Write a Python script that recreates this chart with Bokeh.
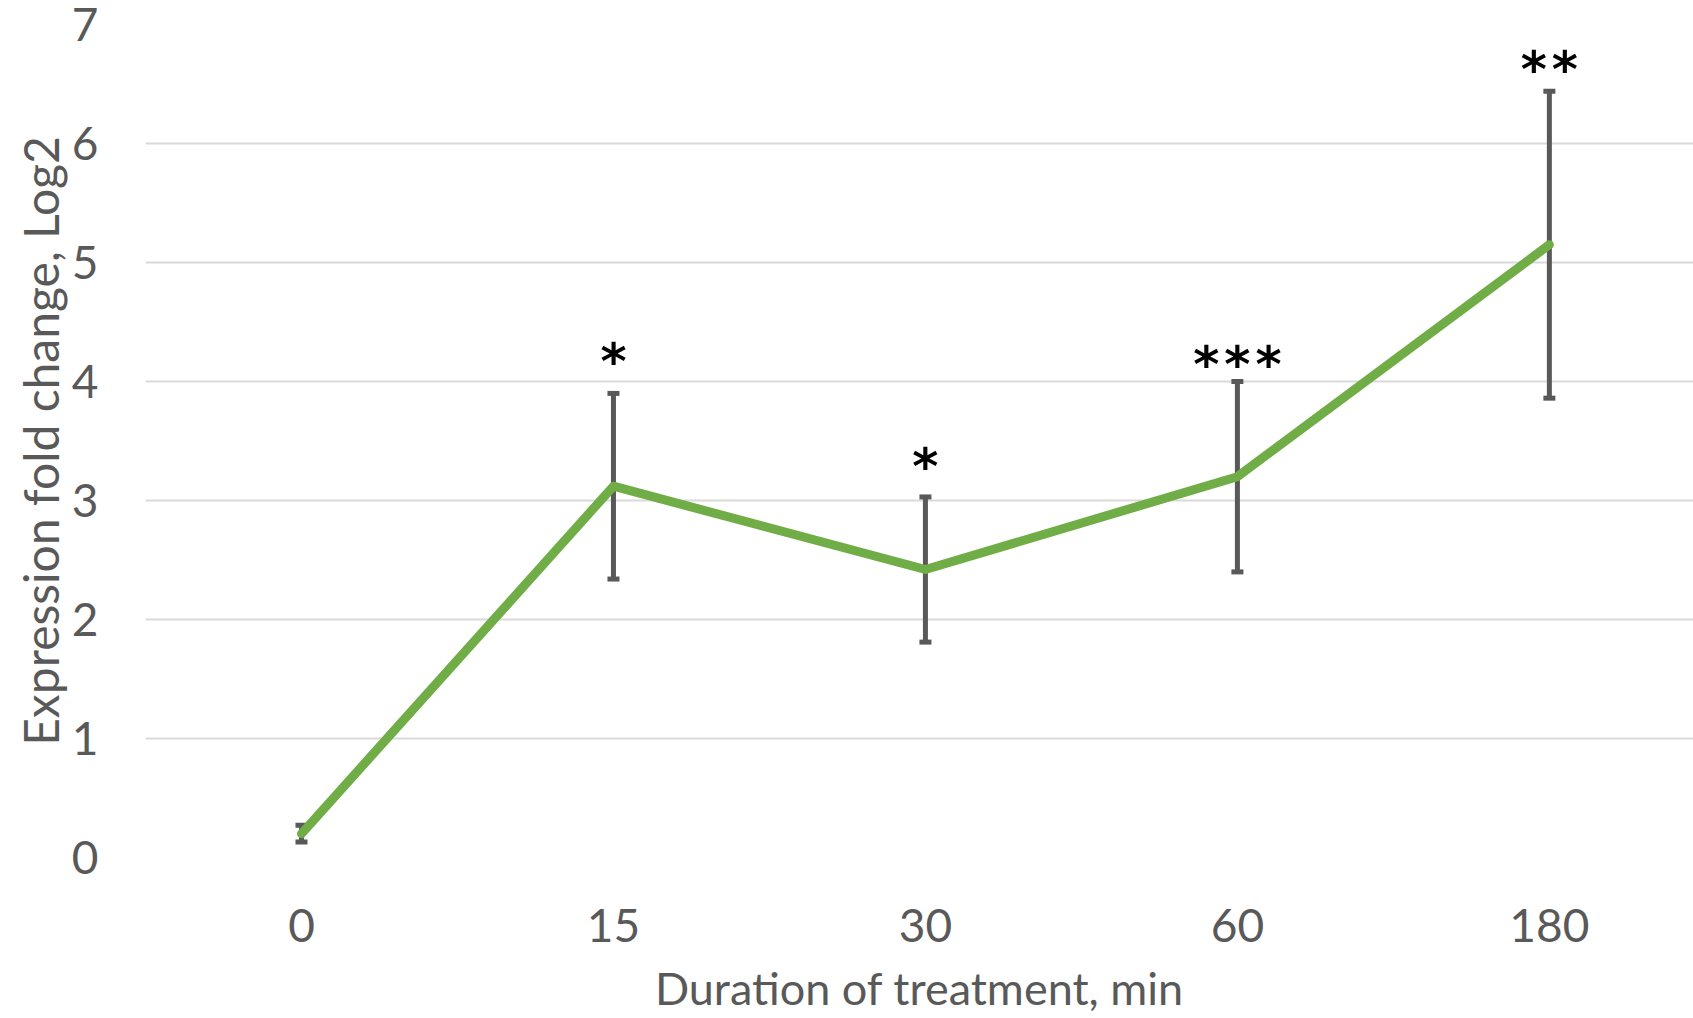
from bokeh.plotting import figure
from bokeh.models import ColumnDataSource, Whisker, TeeHead, FixedTicker, Range1d
from bokeh.embed import file_html
from bokeh.resources import INLINE
from bokeh.core.properties import value

# ---- data ----
durations = ["0", "15", "30", "60", "180"]
fold_change = [0.20, 3.12, 2.42, 3.20, 5.15]
error = [0.07, 0.78, 0.61, 0.80, 1.29]
significance = ["", "*", "*", "***", "**"]
sig_height = [0.0, 4.16, 3.28, 4.14, 6.62]
y_ticks = [0, 1, 2, 3, 4, 5, 6, 7]

xpos = list(range(len(durations)))
upper = [v + e for v, e in zip(fold_change, error)]
lower = [v - e for v, e in zip(fold_change, error)]

src = ColumnDataSource(dict(x=xpos, y=fold_change, upper=upper, lower=lower))
sig_src = ColumnDataSource(dict(x=[x for x, s in zip(xpos, significance) if s],
                                y=[h for h, s in zip(sig_height, significance) if s],
                                t=["\u200a".join(s) for s in significance if s]))

FONT = "Lato"
GREY = "#595959"

p = figure(width=1693, height=1018, output_backend="svg", toolbar_location=None,
           x_range=Range1d(-0.5, 4.462), y_range=Range1d(0, 7),
           min_border_left=145, min_border_right=0, min_border_top=24, min_border_bottom=161)
p.outline_line_color = None
p.background_fill_color = "white"

# grid
p.xgrid.grid_line_color = None
p.ygrid.grid_line_color = "#D9D9D9"
p.ygrid.grid_line_width = 2

# axes
p.xaxis.ticker = FixedTicker(ticks=xpos)
p.xaxis.major_label_overrides = {i: d for i, d in enumerate(durations)}
p.yaxis.ticker = FixedTicker(ticks=y_ticks)
for ax in (p.xaxis[0], p.yaxis[0]):
    ax.axis_line_color = None
    ax.major_tick_line_color = None
    ax.minor_tick_line_color = None
    ax.major_tick_out = 0
    ax.major_tick_in = 0
    ax.minor_tick_out = 0
    ax.minor_tick_in = 0
    ax.major_label_text_font = FONT
    ax.major_label_text_font_size = "46px"
    ax.major_label_text_color = GREY
    ax.axis_label_text_font = FONT
    ax.axis_label_text_font_style = "normal"
    ax.axis_label_text_color = GREY
p.xaxis.axis_label = "Duration of treatment, min"
p.yaxis.axis_label = "Expression fold change, Log2"
p.xaxis.axis_label_text_font_size = "45px"
p.yaxis.axis_label_text_font_size = "48px"
p.yaxis.major_label_standoff = 47
p.xaxis.major_label_standoff = 51
p.xaxis.axis_label_standoff = 16
p.yaxis.axis_label_standoff = 0

# error bars
w = Whisker(source=src, base="x", upper="upper", lower="lower",
            line_color="#595959", line_width=5,
            upper_head=TeeHead(size=12, line_color="#595959", line_width=5),
            lower_head=TeeHead(size=12, line_color="#595959", line_width=5))
p.add_layout(w)

# line
p.line("x", "y", source=src, line_color="#70AD47", line_width=9,
       line_cap="round", line_join="round")

# significance stars
p.text("x", "y", text="t", source=sig_src, text_font=value("DejaVu Sans"),
       text_font_style="bold", text_font_size="50px", text_color="black",
       text_align="center", text_baseline="middle")

open("out.html", "w").write(file_html(p, INLINE))
